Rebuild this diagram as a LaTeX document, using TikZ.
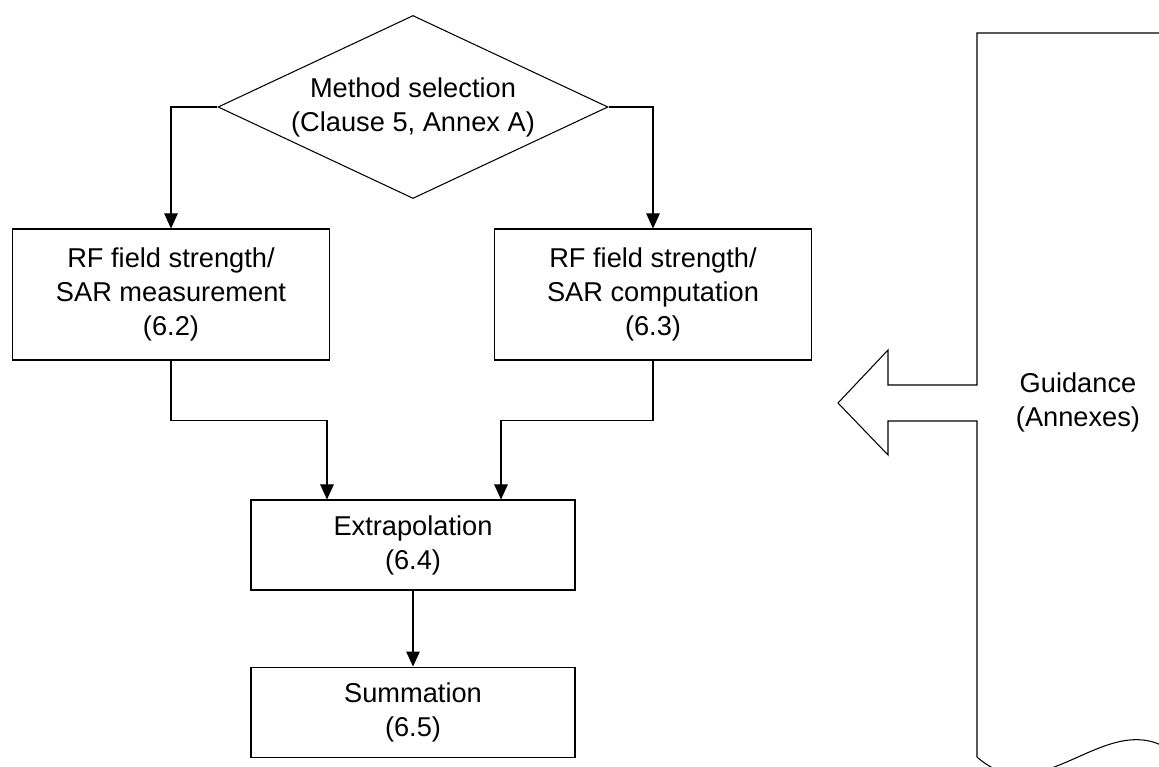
\documentclass[tikz,border=0pt]{standalone}
\usepackage{fontspec}
\setmainfont{Liberation Sans}
\usetikzlibrary{arrows.meta,positioning,shapes.geometric}

\begin{document}
\begin{tikzpicture}[
  font=\fontsize{15.5}{19.3}\selectfont,
  line width=0.6pt,
  decision/.style={draw,diamond,aspect=2.13,inner sep=0pt,minimum width=7.8cm,minimum height=3.66cm,align=center},
  method/.style={draw,minimum width=6.34cm,minimum height=2.62cm,align=center},
  process/.style={draw,minimum width=6.48cm,minimum height=1.8cm,align=center},
  flow/.style={-{Triangle[length=0.3cm,width=0.27cm]}}
]
  \useasboundingbox (0,0) rectangle (23.18,-15.34);
  \clip (0,0) rectangle (23.18,-15.34);
  \node[decision] (select) at (8.26,-2.14) {Method selection\\(Clause 5, Annex A)};
  \node[method] (meas) at (3.42,-5.89) {RF field strength/\\SAR measurement\\(6.2)};
  \node[method] (comp) at (13.06,-5.89) {RF field strength/\\SAR computation\\(6.3)};
  \node[process] (extrap) at (8.26,-10.9) {Extrapolation\\(6.4)};
  \node[process,below=1.52cm of extrap] (summ) {Summation\\(6.5)};
  \draw[flow] (select.west) -| (meas.north);
  \draw[flow] (select.east) -| (comp.north);
  \draw[flow] (meas.south) -- ++(0,-1.2) -| ([xshift=-1.72cm]extrap.north);
  \draw[flow] (comp.south) -- ++(0,-1.2) -| ([xshift=1.76cm]extrap.north);
  \draw[flow] (extrap) -- (summ);
  % guidance document with arrow
  \draw (23.58,-0.66) -- (19.54,-0.66) -- (19.54,-7.7) -- (17.76,-7.7) -- (17.76,-7.0)
    -- (16.76,-8.06) -- (17.76,-9.1) -- (17.76,-8.42) -- (19.54,-8.42) -- (19.54,-15.14)
    .. controls (20.887,-16.34) and (22.233,-13.94) .. (23.58,-15.14) -- cycle;
  \node[align=center] (guide) at (21.56,-8.04) {Guidance\\(Annexes)};
\end{tikzpicture}
\end{document}
